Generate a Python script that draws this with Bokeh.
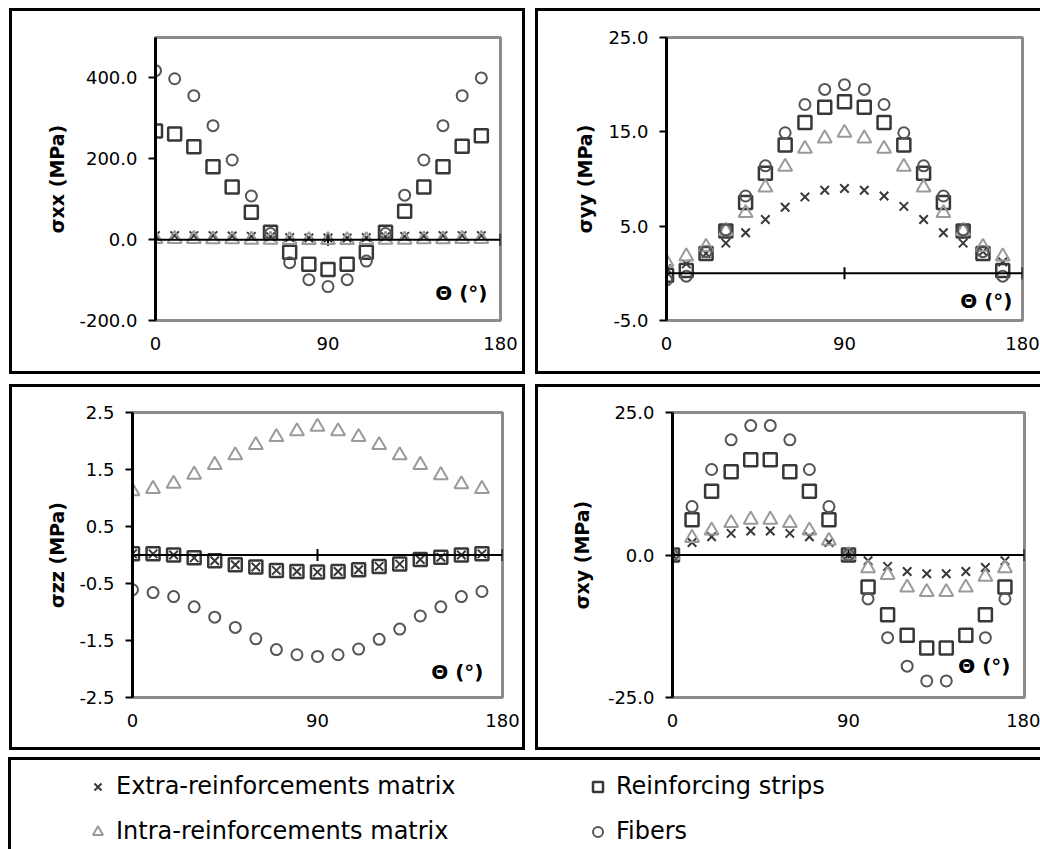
from bokeh.plotting import figure
from bokeh.models import Range1d, FixedTicker, NumeralTickFormatter, Span, Label, Legend, LegendItem, Spacer
from bokeh.layouts import row, column
from bokeh.embed import file_html
from bokeh.resources import INLINE

# ---------------- data ----------------
theta = [0, 10, 20, 30, 40, 50, 60, 70, 80, 90, 100, 110, 120, 130, 140, 150, 160, 170]
x_ticks = [0, 90, 180]

sxx_extra = [10, 10, 10, 10, 9, 8, 7, 5, 4, 4, 4, 5, 7, 8, 9, 10, 10, 10]
sxx_strips = [269, 261, 230, 180, 130, 68, 18, -31, -61, -74, -61, -31, 18, 70, 130, 180, 231, 257]
sxx_intra = [2, 2, 2, 1, 1, 0, 0, -1, -1, -1, -1, -1, 0, 0, 1, 1, 2, 2]
sxx_fibers = [418, 398, 356, 282, 197, 108, 15, -57, -99, -116, -99, -53, 15, 110, 197, 282, 356, 400]

syy_extra = [0.5, 1.0, 2.1, 3.2, 4.3, 5.7, 7.0, 8.1, 8.8, 9.0, 8.8, 8.2, 7.1, 5.7, 4.3, 3.2, 2.3, 1.2]
syy_strips = [-0.2, 0.3, 2.1, 4.5, 7.5, 10.6, 13.6, 16.0, 17.6, 18.2, 17.6, 16.0, 13.6, 10.6, 7.5, 4.5, 2.1, 0.3]
syy_intra = [1.2, 1.8, 2.8, 4.5, 6.4, 9.1, 11.3, 13.2, 14.3, 14.9, 14.3, 13.2, 11.3, 9.1, 6.4, 4.5, 2.8, 1.8]
syy_fibers = [-0.7, -0.3, 2.3, 4.6, 8.2, 11.4, 14.9, 17.9, 19.5, 20.0, 19.5, 17.9, 14.9, 11.4, 8.2, 4.6, 2.3, -0.3]

szz_extra = [0.02, 0.02, 0.0, -0.05, -0.10, -0.17, -0.21, -0.27, -0.29, -0.30, -0.29, -0.26, -0.20, -0.16, -0.08, -0.04, 0.0, 0.02]
szz_strips = [0.02, 0.02, 0.0, -0.05, -0.10, -0.17, -0.21, -0.27, -0.29, -0.30, -0.29, -0.26, -0.20, -0.16, -0.08, -0.04, 0.0, 0.02]
szz_intra = [1.12, 1.16, 1.25, 1.41, 1.58, 1.75, 1.93, 2.07, 2.17, 2.25, 2.17, 2.07, 1.93, 1.75, 1.58, 1.40, 1.24, 1.16]
szz_fibers = [-0.61, -0.66, -0.73, -0.91, -1.09, -1.27, -1.47, -1.66, -1.75, -1.78, -1.75, -1.65, -1.48, -1.30, -1.07, -0.91, -0.73, -0.64]

sxy_extra = [0, 2.2, 3.2, 3.8, 4.2, 4.2, 3.8, 3.2, 2.2, 0, -1.0, -2.0, -2.9, -3.3, -3.3, -2.9, -2.2, -1.0]
sxy_strips = [0, 6.2, 11.2, 14.6, 16.7, 16.7, 14.6, 11.2, 6.2, 0, -5.6, -10.5, -14.1, -16.3, -16.3, -14.1, -10.5, -5.6]
sxy_intra = [0, 3.0, 4.3, 5.6, 6.2, 6.2, 5.6, 4.3, 2.5, 0, -2.3, -3.5, -5.7, -6.5, -6.5, -5.7, -3.8, -2.3]
sxy_fibers = [0, 8.5, 15.0, 20.2, 22.7, 22.7, 20.2, 15.0, 8.5, 0, -7.7, -14.5, -19.5, -22.1, -22.1, -19.5, -14.5, -7.7]

series_names = ["Extra-reinforcements matrix", "Reinforcing strips",
                "Intra-reinforcements matrix", "Fibers"]

# ---------------- styles ----------------
FONT = "DejaVu Sans"
STY = {
    "Extra-reinforcements matrix": dict(marker="x", size=12, line_color="#383838", line_width=2),
    "Reinforcing strips": dict(marker="square", size=13, line_color="#383838", line_width=2.5, fill_color=None),
    "Intra-reinforcements matrix": dict(marker="triangle", size=14, line_color="#9a9a9a", line_width=2, fill_color=None),
    "Fibers": dict(marker="circle", size=11, line_color="#555555", line_width=2, fill_color=None),
}


def make_panel(series, yr, yticks, ylabel, w, h, borders, css, lab_off, ylab_standoff):
    bl, br, bt, bb = borders
    p = figure(width=w, height=h, x_range=Range1d(0, 180), y_range=Range1d(*yr),
               output_backend="svg", toolbar_location=None,
               min_border_left=bl, min_border_right=br, min_border_top=bt, min_border_bottom=bb,
               styles=css)
    p.grid.visible = False
    p.outline_line_color = "#8c8c8c"
    p.outline_line_width = 3
    p.background_fill_color = "white"
    p.border_fill_color = "white"

    ya = p.yaxis[0]
    ya.ticker = FixedTicker(ticks=yticks)
    ya.formatter = NumeralTickFormatter(format="0.0")
    ya.axis_line_color = "black"
    ya.axis_line_width = 3
    ya.major_tick_out = 7
    ya.major_tick_in = 0
    ya.major_tick_line_width = 2
    ya.minor_tick_line_color = None
    ya.major_label_standoff = 11
    ya.major_label_text_font = FONT
    ya.major_label_text_font_size = "18px"
    ya.major_label_text_color = "black"
    ya.axis_label = ylabel
    ya.axis_label_text_font = FONT
    ya.axis_label_text_font_style = "bold"
    ya.axis_label_text_font_size = "19px"
    ya.axis_label_text_color = "black"
    ya.axis_label_standoff = ylab_standoff

    xa = p.xaxis[0]
    xa.ticker = FixedTicker(ticks=x_ticks)
    xa.axis_line_color = None
    xa.major_tick_line_color = None
    xa.minor_tick_line_color = None
    xa.major_label_standoff = 10
    xa.major_label_text_font = FONT
    xa.major_label_text_font_size = "18px"
    xa.major_label_text_color = "black"

    # horizontal axis line at y = 0 with its tick marks
    p.add_layout(Span(location=0, dimension="width", line_color="black", line_width=2))
    p.scatter(x=x_ticks[1:], y=[0] * len(x_ticks[1:]), marker="dash", angle=1.5708,
              size=12, line_color="black", line_width=2)

    for name in series_names:
        st = dict(STY[name])
        mk = st.pop("marker")
        p.scatter(x=theta, y=series[name], marker=mk, **st)

    dx, dy = lab_off
    p.add_layout(Label(x=180, y=yr[0], x_offset=-dx, y_offset=dy, text="Θ (°)",
                       text_align="right", text_baseline="bottom",
                       text_font=FONT, text_font_style="bold", text_font_size="20px",
                       text_color="black"))
    return p


B = "3px solid black"
full = {"border": B}
right_open = {"border-left": B, "border-top": B, "border-bottom": B}

p1 = make_panel({"Extra-reinforcements matrix": sxx_extra, "Reinforcing strips": sxx_strips,
                 "Intra-reinforcements matrix": sxx_intra, "Fibers": sxx_fibers},
                (-200, 500), [-200, 0, 200, 400], "σxx (MPa)", 516, 366,
                (143, 28, 26, 55), full, (13, 16), 8)
p2 = make_panel({"Extra-reinforcements matrix": syy_extra, "Reinforcing strips": syy_strips,
                 "Intra-reinforcements matrix": syy_intra, "Fibers": syy_fibers},
                (-5, 25), [-5, 5, 15, 25], "σyy (MPa)", 505, 366,
                (128, 21, 25, 57), right_open, (10, 8), 9)
p3 = make_panel({"Extra-reinforcements matrix": szz_extra, "Reinforcing strips": szz_strips,
                 "Intra-reinforcements matrix": szz_intra, "Fibers": szz_fibers},
                (-2.5, 2.5), [-2.5, -1.5, -0.5, 0.5, 1.5, 2.5], "σzz (MPa)", 516, 366,
                (120, 26, 25, 55), full, (19, 14), 8)
p4 = make_panel({"Extra-reinforcements matrix": sxy_extra, "Reinforcing strips": sxy_strips,
                 "Intra-reinforcements matrix": sxy_intra, "Fibers": sxy_fibers},
                (-25, 25), [-25, 0, 25], "σxy (MPa)", 505, 366,
                (134, 19, 25, 56), right_open, (14, 20), 12)

# ---------------- legend panel ----------------
leg = figure(width=1032, height=92, x_range=Range1d(0, 1), y_range=Range1d(0, 1),
             x_axis_type=None, y_axis_type=None, output_backend="svg", toolbar_location=None,
             min_border=0, styles={"border-left": B, "border-top": B})
leg.grid.visible = False
leg.outline_line_color = None
nan = float("nan")
rend = {}
for name in series_names:
    st = dict(STY[name])
    mk = st.pop("marker")
    rend[name] = leg.scatter(x=[nan], y=[nan], marker=mk, **st)


def make_legend(names, x):
    lg = Legend(items=[LegendItem(label=n, renderers=[rend[n]]) for n in names],
                location=(x, 7), orientation="vertical")
    lg.border_line_color = None
    lg.background_fill_alpha = 0
    lg.padding = 0
    lg.margin = 0
    lg.spacing = 17
    lg.glyph_width = 25
    lg.glyph_height = 25
    lg.label_height = 25
    lg.label_standoff = 6
    lg.label_text_font = FONT
    lg.label_text_font_size = "24px"
    lg.label_text_color = "black"
    return lg


leg.add_layout(make_legend(["Extra-reinforcements matrix", "Intra-reinforcements matrix"], 74))
leg.add_layout(make_legend(["Reinforcing strips", "Fibers"], 574))

layout = column(
    Spacer(height=8),
    row(Spacer(width=9), p1, Spacer(width=10), p2, spacing=0),
    Spacer(height=10),
    row(Spacer(width=9), p3, Spacer(width=10), p4, spacing=0),
    Spacer(height=7),
    row(Spacer(width=8), leg, spacing=0),
    spacing=0,
)

open("out.html", "w").write(file_html(layout, INLINE))
